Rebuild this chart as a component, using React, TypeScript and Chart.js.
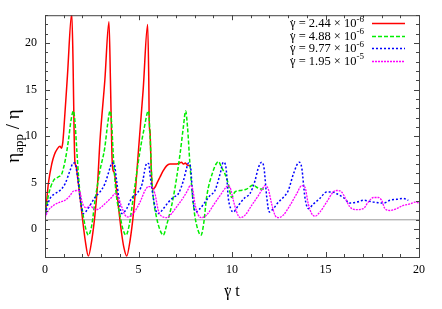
import React, { useEffect, useRef } from "react";
import { Chart, registerables } from "chart.js";

Chart.register(...registerables);

// ---- data ----
const redT = [0, 0.05, 0.18, 0.36, 0.5, 0.65, 0.8, 0.88, 0.95, 1.0, 1.2, 1.43, 1.5, 1.56, 1.6, 1.66, 1.75, 1.87, 2.0, 2.15, 2.32, 2.5, 2.67, 2.8, 2.94, 3.2, 3.42, 3.5, 3.58, 3.63, 3.7, 3.8, 3.95, 4.1, 4.22, 4.37, 4.55, 4.72, 4.85, 5.0, 5.25, 5.49, 5.55, 5.58, 5.61, 5.63, 5.68, 5.75, 5.88, 6.0, 6.15, 6.3, 6.5, 6.68, 6.85, 7.04, 7.2, 7.3, 7.4, 7.5, 7.6, 7.75];
const redV = [1.3, 2.2, 4.9, 7.0, 8.0, 8.6, 8.9, 8.7, 9.3, 10.5, 16.5, 23.2, 18, 10, 7.2, 6.8, 5.5, 3.5, 1.2, -1.2, -2.9, -1.2, 1.5, 4.5, 9.5, 16, 22.3, 16, 8, 6.4, 6.1, 4.7, 2.0, -0.5, -2.0, -2.9, -1.2, 1.5, 4.5, 8.5, 15, 22.0, 16, 10.5, 10.8, 9.8, 6.5, 4.3, 4.5, 5.0, 5.6, 6.2, 6.8, 7.0, 7.0, 7.0, 7.1, 7.2, 7.0, 7.1, 6.9, 6.8];

const greenT = [0, 0.18, 0.45, 0.71, 0.89, 0.98, 1.1, 1.25, 1.4, 1.52, 1.6, 1.7, 1.8, 1.87, 2.0, 2.15, 2.32, 2.5, 2.67, 2.94, 3.2, 3.35, 3.48, 3.56, 3.65, 3.75, 3.83, 4.0, 4.15, 4.33, 4.5, 4.72, 5.08, 5.3, 5.53, 5.62, 5.7, 5.79, 5.95, 6.15, 6.33, 6.5, 6.86, 7.22, 7.4, 7.52, 7.62, 7.75, 7.93, 8.1, 8.34, 8.5, 8.64, 9.0, 9.15, 9.27, 9.45, 9.63, 9.8, 9.98, 10.16, 10.43, 10.78, 11.14, 11.32, 11.5, 11.76];
const greenV = [1.3, 3.6, 5.2, 5.6, 5.9, 6.5, 7.6, 9.5, 11.8, 12.7, 11.6, 8.5, 5.5, 3.8, 2.0, 0.3, -0.65, 0.4, 3.0, 6.3, 8.8, 11.3, 12.7, 11.5, 8, 5, 3.4, 1.6, 0.1, -0.65, 0.4, 3.4, 8.4, 10.8, 12.7, 10, 5.9, 3.4, 1.4, -0.1, -0.65, 0.4, 3.4, 8.05, 11, 12.7, 11, 7.0, 2.7, 0.5, -0.65, 0.8, 3.4, 6.3, 7.0, 7.27, 6.6, 5.9, 4.86, 3.4, 4.0, 4.15, 4.3, 4.75, 4.5, 4.3, 4.3];

const blueT = [0, 0.09, 0.27, 0.53, 0.8, 1.07, 1.34, 1.51, 1.6, 1.69, 1.78, 1.87, 2.05, 2.23, 2.41, 2.67, 2.94, 3.2, 3.48, 3.57, 3.7, 3.83, 4.01, 4.1, 4.37, 4.63, 4.9, 5.2, 5.35, 5.45, 5.55, 5.62, 5.79, 5.95, 6.06, 6.33, 6.6, 6.86, 7.13, 7.4, 7.58, 7.67, 7.79, 7.9, 8.07, 8.29, 8.56, 8.82, 9.09, 9.36, 9.54, 9.68, 9.8, 9.93, 10.07, 10.34, 10.7, 10.96, 11.23, 11.41, 11.59, 11.71, 11.86, 11.99, 12.21, 12.48, 12.74, 13.01, 13.28, 13.6, 13.73, 13.9, 14.08, 14.35, 14.7, 15.06, 15.33, 15.6, 15.95, 16.3, 16.67, 17.02, 17.56, 18.1, 18.45, 18.8, 19.16, 19.43];
const blueV = [1.2, 2.2, 3.3, 3.8, 4.15, 4.86, 6.3, 7.1, 7.1, 6.3, 5.0, 3.4, 1.67, 2.0, 2.55, 3.4, 4.0, 4.86, 6.6, 7.1, 7.0, 5.2, 2.4, 1.67, 2.2, 3.3, 3.8, 4.9, 6.5, 7.1, 7.0, 5.8, 3.4, 1.9, 1.67, 2.2, 2.9, 3.4, 3.8, 5.2, 6.6, 7.1, 6.6, 3.4, 1.84, 2.2, 2.9, 3.6, 4.15, 5.9, 7.2, 6.6, 3.4, 2.2, 1.84, 2.55, 3.4, 3.8, 5.2, 6.6, 7.2, 6.6, 3.4, 1.84, 2.2, 2.9, 3.4, 4.15, 5.9, 7.2, 6.6, 3.4, 2.2, 2.7, 3.3, 4.0, 4.0, 3.8, 3.4, 2.8, 2.9, 3.1, 2.9, 2.8, 3.1, 3.2, 3.3, 3.1];

const magentaT = [0, 0.18, 0.45, 0.8, 1.07, 1.34, 1.51, 1.78, 1.87, 1.96, 2.05, 2.23, 2.41, 2.59, 2.76, 3.03, 3.3, 3.56, 3.74, 3.92, 4.1, 4.28, 4.45, 4.72, 5.08, 5.35, 5.53, 5.7, 5.88, 6.06, 6.24, 6.51, 6.77, 7.04, 7.4, 7.66, 7.75, 7.9, 8.02, 8.2, 8.38, 8.64, 9.0, 9.36, 9.71, 9.8, 9.93, 10.07, 10.25, 10.43, 10.7, 11.05, 11.41, 11.68, 11.76, 11.94, 12.12, 12.3, 12.48, 12.74, 13.1, 13.46, 13.73, 13.9, 14.08, 14.26, 14.44, 14.7, 15.06, 15.42, 15.6, 15.86, 16.04, 16.3, 16.67, 17.02, 17.29, 17.56, 17.83, 18.0, 18.18, 18.45, 18.8, 19.16, 19.52, 19.79, 20];
const magentaV = [1.2, 2.0, 2.55, 2.9, 3.1, 3.6, 4.07, 4.15, 4.0, 3.1, 2.55, 2.3, 2.55, 2.2, 2.1, 2.4, 2.9, 3.4, 3.8, 3.4, 2.4, 1.5, 1.3, 1.67, 2.9, 4.15, 4.57, 4.57, 3.8, 2.0, 1.38, 1.24, 1.67, 2.4, 3.4, 4.3, 4.68, 4.3, 2.7, 1.5, 1.24, 1.5, 2.55, 3.6, 4.57, 4.68, 4.3, 3.1, 1.84, 1.24, 1.5, 2.55, 3.6, 4.5, 4.68, 4.3, 2.7, 1.5, 1.24, 1.5, 2.55, 3.8, 4.68, 4.5, 2.7, 1.67, 1.38, 1.84, 2.9, 4.0, 4.15, 4.0, 3.4, 2.4, 2.1, 2.2, 2.9, 3.4, 3.4, 3.1, 2.2, 2.0, 2.2, 2.55, 2.7, 2.9, 2.8];

const rateMantissas = ["2.44", "4.88", "9.77", "1.95"];
const rateExponents = ["-6", "-6", "-6", "-5"];
const xTickValues = [0, 5, 10, 15, 20];
const yTickValues = [0, 5, 10, 15, 20];
const refLevel = 1;
const xRange = [0, 20];
const yRange = [-3, 23];

const SERIF = "'Liberation Serif', 'DejaVu Serif', serif";

function pts(t: number[], v: number[]) {
  return t.map((x, i) => ({ x, y: v[i] }));
}

// draws "γ" with a dot above it at (x, y baseline); returns advance width
function drawGammaDot(ctx: CanvasRenderingContext2D, x: number, y: number, size: number) {
  ctx.font = `${size}px ${SERIF}`;
  ctx.textAlign = "left";
  const gw = ctx.measureText("\u03B3").width;
  ctx.fillText("\u03B3", x, y);
  ctx.textAlign = "center";
  ctx.fillText("\u02D9", x + gw / 2 - size * 0.03, y + size * 0.1);
  ctx.textAlign = "left";
  return gw;
}

const framePlugin = {
  id: "frame",
  afterDraw(chart: any) {
    const { ctx, chartArea: a, scales } = chart;
    const xs = scales.x;
    const ys = scales.y;
    ctx.save();
    ctx.strokeStyle = "#444";
    ctx.lineWidth = 1;
    ctx.beginPath();
    for (let v = Math.ceil(ys.min); v <= ys.max; v++) {
      const p = Math.round(ys.getPixelForValue(v)) + 0.5;
      const len = v % 5 === 0 ? 5 : 3;
      ctx.moveTo(a.left, p);
      ctx.lineTo(a.left + len, p);
      ctx.moveTo(a.right, p);
      ctx.lineTo(a.right - len, p);
    }
    for (let v = Math.ceil(xs.min); v <= xs.max; v++) {
      const p = Math.round(xs.getPixelForValue(v)) + 0.5;
      const len = v % 5 === 0 ? 5 : 3;
      ctx.moveTo(p, a.bottom);
      ctx.lineTo(p, a.bottom - len);
      ctx.moveTo(p, a.top);
      ctx.lineTo(p, a.top + len);
    }
    ctx.stroke();
    ctx.strokeRect(a.left + 0.5, a.top + 0.5, a.right - a.left, a.bottom - a.top);

    ctx.fillStyle = "#000";
    ctx.textBaseline = "alphabetic";

    // x title: γ̇ t
    {
      const size = 16;
      ctx.font = `${size}px ${SERIF}`;
      const gw = ctx.measureText("\u03B3").width;
      const tw = ctx.measureText(" t").width;
      const x0 = (a.left + a.right) / 2 - (gw + tw) / 2;
      drawGammaDot(ctx, x0, 296, size);
      ctx.font = `${size}px ${SERIF}`;
      ctx.fillText(" t", x0 + gw, 296);
    }

    // y title, rotated, with subscript
    ctx.save();
    const big = `19px ${SERIF}`;
    const small = `13px ${SERIF}`;
    ctx.font = big;
    const w1 = ctx.measureText("\u03B7").width;
    const w3 = ctx.measureText(" / \u03B7").width;
    ctx.font = small;
    const w2 = ctx.measureText("app").width;
    const total = w1 + w2 + w3;
    ctx.translate(19, (a.top + a.bottom) / 2);
    ctx.rotate(-Math.PI / 2);
    ctx.textAlign = "left";
    let x0 = -total / 2;
    ctx.font = big;
    ctx.fillText("\u03B7", x0, 0);
    x0 += w1;
    ctx.font = small;
    ctx.fillText("app", x0, 4);
    x0 += w2;
    ctx.font = big;
    ctx.fillText(" / \u03B7", x0, 0);
    ctx.restore();

    // legend (text right-justified, then sample line)
    const rowY = [23, 35.5, 48, 60.5];
    const textRight = 364;
    const sampleL = 372;
    const sampleR = 405;
    const dsList = chart.data.datasets.filter((d: any) => d.label);
    dsList.forEach((d: any, i: number) => {
      const y = rowY[i];
      const size = 12.5;
      const rest = ` = ${rateMantissas[i]} \u00D7 10`;
      const sup = rateExponents[i];
      ctx.font = `${size}px ${SERIF}`;
      const gw = ctx.measureText("\u03B3").width;
      const rw = ctx.measureText(rest).width;
      ctx.font = `9px ${SERIF}`;
      const sw = ctx.measureText(sup).width;
      const sx = textRight - gw - rw - sw;
      ctx.fillStyle = "#000";
      ctx.textBaseline = "alphabetic";
      drawGammaDot(ctx, sx, y + 4, size);
      ctx.font = `${size}px ${SERIF}`;
      ctx.fillText(rest, sx + gw, y + 4);
      ctx.font = `9px ${SERIF}`;
      ctx.fillText(sup, sx + gw + rw, y - 1.5);
      ctx.save();
      ctx.strokeStyle = d.borderColor;
      ctx.lineWidth = d.borderWidth;
      ctx.setLineDash(d.borderDash || []);
      ctx.beginPath();
      ctx.moveTo(sampleL, Math.round(y) + 0.5);
      ctx.lineTo(sampleR, Math.round(y) + 0.5);
      ctx.stroke();
      ctx.restore();
    });
    ctx.restore();
  },
};

export default function App() {
  const ref = useRef<HTMLCanvasElement>(null);
  useEffect(() => {
    if (!ref.current) return;
    const chart = new Chart(ref.current, {
      type: "line",
      data: {
        datasets: [
          {
            label: "r",
            data: pts(redT, redV),
            borderColor: "#ff0000",
            borderWidth: 1.5,
            pointRadius: 0,
            cubicInterpolationMode: "monotone",
            order: 4,
          },
          {
            label: "g",
            data: pts(greenT, greenV),
            borderColor: "#00ee00",
            borderWidth: 1.5,
            borderDash: [4, 2],
            pointRadius: 0,
            cubicInterpolationMode: "monotone",
            order: 3,
          },
          {
            label: "b",
            data: pts(blueT, blueV),
            borderColor: "#0000ff",
            borderWidth: 1.5,
            borderDash: [2, 2],
            pointRadius: 0,
            cubicInterpolationMode: "monotone",
            order: 2,
          },
          {
            label: "m",
            data: pts(magentaT, magentaV),
            borderColor: "#ff00ff",
            borderWidth: 1.3,
            borderDash: [2, 1],
            pointRadius: 0,
            cubicInterpolationMode: "monotone",
            order: 1,
          },
          {
            label: "",
            data: [
              { x: xRange[0], y: refLevel },
              { x: xRange[1], y: refLevel },
            ],
            borderColor: "#999999",
            borderWidth: 1,
            pointRadius: 0,
            order: 10,
          },
        ],
      },
      options: {
        animation: false,
        responsive: false,
        maintainAspectRatio: false,
        layout: { padding: { top: 15, right: 23, left: 0, bottom: 0 } },
        plugins: { legend: { display: false }, tooltip: { enabled: false } },
        scales: {
          x: {
            type: "linear",
            min: xRange[0],
            max: xRange[1],
            grid: { display: false, drawTicks: false },
            border: { display: false },
            afterBuildTicks: (ax: any) => {
              ax.ticks = xTickValues.map((v) => ({ value: v }));
            },
            afterFit: (ax: any) => {
              ax.height = 52;
            },
            ticks: {
              padding: 6,
              color: "#000",
              maxRotation: 0,
              autoSkip: false,
              font: { family: SERIF, size: 12 },
            },
          },
          y: {
            type: "linear",
            min: yRange[0],
            max: yRange[1],
            grid: { display: false, drawTicks: false },
            border: { display: false },
            afterBuildTicks: (ax: any) => {
              ax.ticks = yTickValues.map((v) => ({ value: v }));
            },
            afterFit: (ax: any) => {
              ax.width = 45;
            },
            ticks: {
              padding: 8,
              color: "#000",
              autoSkip: false,
              font: { family: SERIF, size: 12 },
            },
          },
        },
      },
      plugins: [framePlugin],
    } as any);
    return () => chart.destroy();
  }, []);
  return (
    <canvas
      ref={ref}
      width={442}
      height={309}
      style={{ position: "absolute", left: 0, top: 0, width: 442, height: 309 }}
    />
  );
}
